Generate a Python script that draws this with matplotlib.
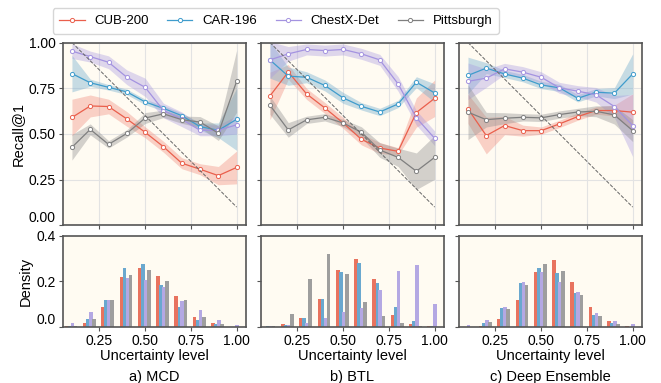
import numpy as np
import matplotlib
matplotlib.use('Agg')
import matplotlib.pyplot as plt

plt.rcParams['font.family'] = ['Liberation Sans', 'DejaVu Sans']

# niveis de incerteza
x = np.array([0.1, 0.2, 0.3, 0.4, 0.5, 0.6, 0.7, 0.8, 0.9, 1.0])
names = ['CUB-200', 'CAR-196', 'ChestX-Det', 'Pittsburgh']
methods = ['a) MCD', 'b) BTL', 'c) Deep Ensemble']

# Recall@1 (media) por metodo
mcd_cub = [0.59, 0.653, 0.65, 0.582, 0.509, 0.43, 0.34, 0.307, 0.272, 0.317]
mcd_car = [0.83, 0.78, 0.755, 0.73, 0.675, 0.64, 0.60, 0.54, 0.52, 0.58]
mcd_chest = [0.953, 0.923, 0.892, 0.81, 0.755, 0.628, 0.58, 0.52, 0.52, 0.55]
mcd_pitts = [0.427, 0.525, 0.443, 0.503, 0.587, 0.61, 0.578, 0.565, 0.504, 0.788]

btl_cub = [0.708, 0.839, 0.719, 0.642, 0.56, 0.47, 0.423, 0.405, 0.617, 0.695]
btl_car = [0.905, 0.816, 0.81, 0.765, 0.697, 0.651, 0.62, 0.664, 0.783, 0.724]
btl_chest = [0.905, 0.938, 0.962, 0.956, 0.962, 0.938, 0.905, 0.774, 0.588, 0.476]
btl_pitts = [0.657, 0.522, 0.577, 0.591, 0.56, 0.509, 0.412, 0.372, 0.296, 0.372]

de_cub = [0.637, 0.491, 0.546, 0.518, 0.518, 0.555, 0.595, 0.628, 0.628, 0.619]
de_car = [0.82, 0.86, 0.828, 0.805, 0.768, 0.752, 0.695, 0.728, 0.723, 0.828]
de_chest = [0.788, 0.805, 0.856, 0.838, 0.81, 0.752, 0.734, 0.714, 0.65, 0.546]
de_pitts = [0.619, 0.578, 0.586, 0.591, 0.588, 0.606, 0.62, 0.624, 0.604, 0.518]

# desvio padrao (faixas)
mcd_cub_sd = [0.10, 0.06, 0.04, 0.04, 0.03, 0.03, 0.03, 0.03, 0.05, 0.09]
mcd_car_sd = [0.10, 0.02, 0.015, 0.015, 0.015, 0.015, 0.015, 0.02, 0.04, 0.17]
mcd_chest_sd = [0.04, 0.03, 0.035, 0.04, 0.05, 0.04, 0.04, 0.03, 0.03, 0.05]
mcd_pitts_sd = [0.07, 0.03, 0.02, 0.02, 0.03, 0.02, 0.02, 0.03, 0.04, 0.17]

btl_cub_sd = [0.13, 0.04, 0.03, 0.03, 0.03, 0.03, 0.03, 0.02, 0.08, 0.10]
btl_car_sd = [0.10, 0.05, 0.03, 0.03, 0.03, 0.02, 0.02, 0.02, 0.03, 0.05]
btl_chest_sd = [0.10, 0.04, 0.03, 0.03, 0.03, 0.03, 0.03, 0.04, 0.04, 0.04]
btl_pitts_sd = [0.05, 0.04, 0.02, 0.02, 0.02, 0.03, 0.04, 0.05, 0.10, 0.12]

de_cub_sd = [0.08, 0.10, 0.05, 0.03, 0.02, 0.02, 0.02, 0.02, 0.03, 0.10]
de_car_sd = [0.10, 0.03, 0.02, 0.02, 0.02, 0.02, 0.02, 0.02, 0.03, 0.11]
de_chest_sd = [0.10, 0.05, 0.03, 0.03, 0.03, 0.03, 0.03, 0.04, 0.06, 0.17]
de_pitts_sd = [0.15, 0.04, 0.03, 0.02, 0.02, 0.02, 0.02, 0.03, 0.05, 0.06]

# densidade das amostras por nivel
mcd_hist_cub = [0.005, 0.02, 0.09, 0.217, 0.257, 0.222, 0.134, 0.042, 0.016, 0.002]
mcd_hist_car = [0.005, 0.034, 0.12, 0.257, 0.274, 0.182, 0.09, 0.03, 0.012, 0.002]
mcd_hist_chest = [0.02, 0.064, 0.117, 0.213, 0.204, 0.175, 0.112, 0.073, 0.03, 0.007]
mcd_hist_pitts = [0.005, 0.034, 0.117, 0.226, 0.248, 0.2, 0.117, 0.042, 0.012, 0.0]

btl_hist_cub = [0.0, 0.015, 0.041, 0.121, 0.248, 0.296, 0.209, 0.055, 0.012, 0.006]
btl_hist_car = [0.006, 0.01, 0.041, 0.121, 0.241, 0.28, 0.191, 0.09, 0.025, 0.006]
btl_hist_chest = [0.006, 0.01, 0.02, 0.041, 0.064, 0.085, 0.161, 0.244, 0.272, 0.1]
btl_hist_pitts = [0.006, 0.058, 0.209, 0.318, 0.231, 0.108, 0.047, 0.02, 0.006, 0.0]

de_hist_cub = [0.0, 0.006, 0.034, 0.117, 0.24, 0.292, 0.196, 0.09, 0.025, 0.006]
de_hist_car = [0.0, 0.02, 0.082, 0.191, 0.257, 0.235, 0.147, 0.055, 0.016, 0.0]
de_hist_chest = [0.007, 0.032, 0.09, 0.196, 0.24, 0.196, 0.152, 0.063, 0.025, 0.012]
de_hist_pitts = [0.0, 0.022, 0.077, 0.182, 0.274, 0.244, 0.139, 0.047, 0.012, 0.0]

recall = [
    [mcd_cub, mcd_car, mcd_chest, mcd_pitts],
    [btl_cub, btl_car, btl_chest, btl_pitts],
    [de_cub, de_car, de_chest, de_pitts],
]
recall_sd = [
    [mcd_cub_sd, mcd_car_sd, mcd_chest_sd, mcd_pitts_sd],
    [btl_cub_sd, btl_car_sd, btl_chest_sd, btl_pitts_sd],
    [de_cub_sd, de_car_sd, de_chest_sd, de_pitts_sd],
]
hists = [
    [mcd_hist_cub, mcd_hist_car, mcd_hist_chest, mcd_hist_pitts],
    [btl_hist_cub, btl_hist_car, btl_hist_chest, btl_hist_pitts],
    [de_hist_cub, de_hist_car, de_hist_chest, de_hist_pitts],
]

line_colors = ['#ea5f4c', '#3f9ccc', '#a493e0', '#7f7f7f']
band_colors = ['#f08a7c', '#6aa9cc', '#a99ae0', '#8c8c8c']
bar_colors = ['#e8735f', '#6aa8cf', '#b4a8e3', '#9e9e9e']
bg = '#fffbf2'

fig, axes = plt.subplots(2, 3, figsize=(6.61, 3.83), dpi=100, sharex=True,
                         sharey='row', gridspec_kw={'height_ratios': [2, 1]})
fig.subplots_adjust(left=0.095, right=0.971, top=0.889, bottom=0.146,
                    wspace=0.082, hspace=0.075)

offsets = [-0.03, -0.013, 0.003, 0.02]

for j in range(3):
    ax = axes[0, j]
    ax.set_facecolor(bg)
    ax.grid(True, color='#e3e3e3', linewidth=0.8, zorder=0)
    for k in range(4):
        m = np.array(recall[j][k])
        s = np.array(recall_sd[j][k])
        ax.fill_between(x, m - s, m + s, color=band_colors[k], alpha=0.38,
                        linewidth=0, zorder=2)
        ax.plot(x, m, color=line_colors[k], linewidth=0.9, marker='o',
                markersize=3, markerfacecolor='white',
                markeredgewidth=0.7, label=names[k], zorder=3)
    ax.plot([0.1, 1.0], [1.0, 0.1], '--', color='#666666', linewidth=0.7,
            zorder=4)
    ax.set_ylim(0, 1.0)
    ax.set_yticks([0, 0.25, 0.5, 0.75, 1.0])

    axb = axes[1, j]
    axb.set_facecolor(bg)
    for k in range(4):
        axb.bar(x + offsets[k], hists[j][k], width=0.02, color=bar_colors[k],
                zorder=2)
    axb.set_ylim(0, 0.4)
    axb.set_yticks([0.0, 0.2, 0.4])
    axb.set_xlim(0.05, 1.05)
    axb.set_xticks([0.25, 0.5, 0.75, 1.0])
    axb.set_xlabel('Uncertainty level', fontsize=10.5, labelpad=1)
    axb.text(0.5, -0.55, methods[j], transform=axb.transAxes, ha='center',
             va='center', fontsize=10.5)

for ax in axes.flat:
    ax.tick_params(labelsize=10, length=3, width=0.8, color='#555555', pad=2)
    for sp in ax.spines.values():
        sp.set_color('#555555')
        sp.set_linewidth(1.2)

axes[0, 0].set_yticklabels(['0.00', '0.25', '0.50', '0.75', '1.00'])
axes[1, 0].set_yticklabels(['0.0', '0.2', '0.4'])
# rotulos de baixo um pouco acima do tick, como no original
axes[0, 0].get_yticklabels()[0].set_va('bottom')
axes[1, 0].get_yticklabels()[0].set_va('bottom')
axes[0, 0].set_ylabel('Recall@1', fontsize=10.5, labelpad=3)
axes[1, 0].set_ylabel('Density', fontsize=10.5, labelpad=3)

handles, labels = axes[0, 0].get_legend_handles_labels()
fig.legend(handles, labels, loc='center', ncol=4, bbox_to_anchor=(0.4175, 0.945),
           fontsize=9.5, frameon=True, edgecolor='#cccccc', fancybox=True,
           handlelength=1.9, handletextpad=0.75, columnspacing=1.4,
           borderpad=0.5)

plt.savefig('out.png', dpi=100)
